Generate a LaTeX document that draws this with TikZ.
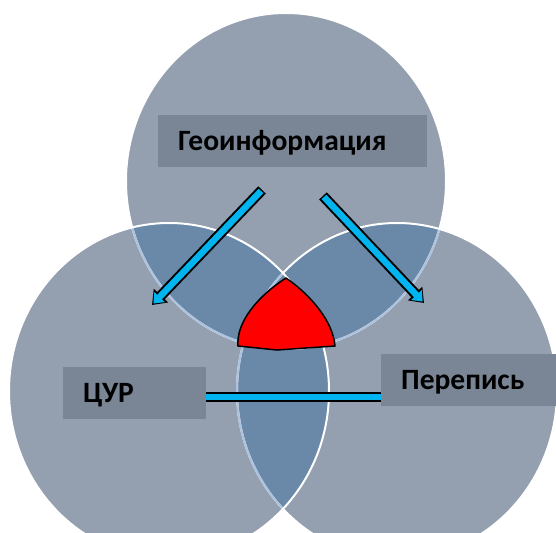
\documentclass[tikz,border=0pt]{standalone}
\usepackage{fontspec}
\setmainfont{Carlito}
\definecolor{circleGray}{RGB}{148,160,176}
\definecolor{overlapBlue}{RGB}{106,136,168}
\definecolor{labelGray}{RGB}{122,134,150}
\definecolor{barBlue}{RGB}{0,180,240}
\definecolor{fadeLine}{RGB}{172,194,222}
\usetikzlibrary{arrows.meta,calc}

\begin{document}
\begin{tikzpicture}[x=1pt,y=-1pt,
    tagbox/.style={fill=labelGray,inner xsep=20pt,inner ysep=0pt,minimum height=52pt,
                   text height=19pt,text depth=0pt,
                   align=left,anchor=west,font=\fontsize{29.5}{33}\selectfont\bfseries},
    barout/.style={line width=10.5pt,black},
    barin/.style={line width=6.5pt,barBlue},
    headout/.style={-{Triangle[length=13pt,width=19pt]}},
    headin/.style={shorten >=2pt,-{Triangle[length=9pt,width=14pt]}},
    rim/.style={white,line width=2pt},
    fadedrim/.style={fadeLine,line width=2pt}
]
\useasboundingbox (0,0) rectangle (556,532);
\clip (0,0) rectangle (556,532);
\fill[white] (0,0) rectangle (556,532);

\def\topc{(286,181) ellipse [x radius=160pt,y radius=168pt]}
\def\leftc{(169,391) ellipse [x radius=160pt,y radius=168pt]}
\def\rightc{(397,391) ellipse [x radius=160pt,y radius=168pt]}

\fill[circleGray] \topc;
\fill[circleGray] \leftc;
\fill[circleGray] \rightc;
\begin{scope}
    \clip \topc;
    \fill[overlapBlue] \leftc;
    \fill[overlapBlue] \rightc;
\end{scope}
\begin{scope}
    \clip \leftc;
    \fill[overlapBlue] \rightc;
\end{scope}

\draw[rim] \topc;
\begin{scope}
    \clip \leftc;
    \draw[fadedrim] \topc;
\end{scope}
\begin{scope}
    \clip \rightc;
    \draw[fadedrim] \topc;
\end{scope}
\draw[rim] \rightc;
\begin{scope}
    \clip \leftc;
    \draw[fadedrim] \rightc;
\end{scope}
\draw[rim] \leftc;

\draw[black,line width=1.5pt,fill=red,line join=round]
    (238,346) .. controls (236,322) and (258,296) .. (286,278)
    .. controls (312,296) and (333,322) .. (335,346) -- (277,350) -- cycle;

\node[tagbox,text width=229pt] (geo) at (158,141) {Геоинформация};
\node[tagbox,text width=103pt] (cur) at (63,393) {ЦУР};
\node[tagbox,text width=160pt] (per) at (381,380) {Перепись};

\coordinate (geoL) at (261,191);
\coordinate (curIn) at (152,305);
\coordinate (geoR) at (324,197);
\coordinate (perIn) at (424,303);

\draw[barout,headout,shorten <=-1.5pt] (geoL) -- (curIn);
\draw[barin,headin] (geoL) -- (curIn);
\draw[barout,headout,shorten <=-1.5pt] (geoR) -- (perIn);
\draw[barin,headin] (geoR) -- (perIn);

\draw[barout] ([yshift=-4pt]cur.east) coordinate (barA) -- (barA -| per.west);
\draw[barin] (barA) -- (barA -| per.west);
\end{tikzpicture}
\end{document}
